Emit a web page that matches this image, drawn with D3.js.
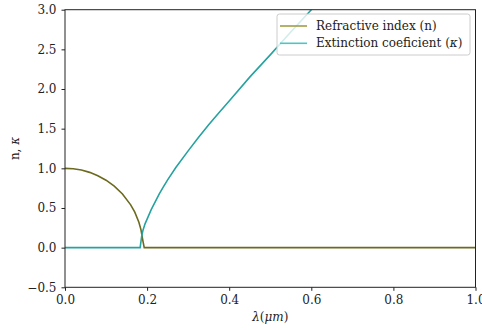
<!DOCTYPE html>
<meta charset="utf-8">
<style>
body { margin: 0; background: #fff; }
.axis path, .axis line { stroke: #222; }
</style>
<svg width="482" height="330"></svg>
<script src="https://cdn.jsdelivr.net/npm/d3@7"></script>
<script>

// values
var lambdaN = [0, 0.02, 0.04, 0.06, 0.08, 0.10, 0.12, 0.14, 0.16, 0.17, 0.18, 0.185, 0.19, 0.193, 1.0];
var nValues = [1.0, 0.994, 0.978, 0.949, 0.907, 0.850, 0.775, 0.676, 0.539, 0.447, 0.320, 0.228, 0.08, 0, 0];

var lambdaK = [0, 0.183, 0.187, 0.19, 0.195, 0.20, 0.21, 0.22, 0.23, 0.24, 0.25, 0.27, 0.30, 0.325, 0.35, 0.375, 0.40, 0.45, 0.50, 0.55, 0.60, 0.65];
var kValues = [0, 0, 0.15, 0.22, 0.30, 0.36, 0.48, 0.58, 0.68, 0.77, 0.855, 1.01, 1.22, 1.39, 1.55, 1.70, 1.85, 2.15, 2.43, 2.72, 3.0, 3.27];

var xTicks = [0, 0.2, 0.4, 0.6, 0.8, 1.0];
var yTicks = [-0.5, 0, 0.5, 1.0, 1.5, 2.0, 2.5, 3.0];
var seriesNames = ["Refractive index (n)", "Extinction coeficient ("];

var FONT = "'DejaVu Serif'";

var svg = d3.select("svg"),
    mLeft = 65, mRight = 475.5, mTop = 9.7, mBottom = 287.3;

var x = d3.scaleLinear().domain([0, 1]).range([mLeft, mRight]);
var y = d3.scaleLinear().domain([-0.5, 3]).range([mBottom, mTop]);

svg.append("defs").append("clipPath").attr("id", "clip")
  .append("rect").attr("x", mLeft).attr("y", mTop).attr("width", mRight - mLeft).attr("height", mBottom - mTop);

var line = d3.line().x(function(d) { return x(d[0]); }).y(function(d) { return y(d[1]); });

var plot = svg.append("g").attr("clip-path", "url(#clip)");

plot.append("path")
    .datum(d3.zip(lambdaN, nValues))
    .attr("d", line)
    .attr("fill", "none")
    .attr("stroke", "#6b6a1f")
    .attr("stroke-width", 1.6);

plot.append("path")
    .datum(d3.zip(lambdaK, kValues))
    .attr("d", line)
    .attr("fill", "none")
    .attr("stroke", "#26a3a0")
    .attr("stroke-width", 1.6);

// axes
var fmt = function(d) { return d3.format(".1f")(d).replace("-", "\u2212"); };

svg.append("g").attr("class", "axis")
    .attr("transform", "translate(0," + mBottom + ")")
    .call(d3.axisBottom(x).tickValues(xTicks).tickFormat(fmt).tickSizeOuter(0).tickSize(3.5).tickPadding(4.5));
svg.append("g").attr("class", "axis")
    .attr("transform", "translate(" + mLeft + ",0)")
    .call(d3.axisLeft(y).tickValues(yTicks).tickFormat(fmt).tickSizeOuter(0).tickSize(3.5).tickPadding(5));
svg.selectAll(".axis .domain").remove();

svg.append("rect")
    .attr("x", mLeft).attr("y", mTop)
    .attr("width", mRight - mLeft).attr("height", mBottom - mTop)
    .attr("fill", "none").attr("stroke", "#222").attr("stroke-width", 1);

// axis labels
svg.append("text")
    .attr("x", (mLeft + mRight) / 2)
    .attr("y", 320.5)
    .attr("text-anchor", "middle")
    .html('<tspan font-style="italic">\u03bb</tspan>(<tspan font-style="italic">\u03bcm</tspan>)');

svg.append("text")
    .attr("transform", "translate(19," + ((mTop + mBottom) / 2) + ") rotate(-90)")
    .attr("text-anchor", "middle")
    .html('n, <tspan font-style="italic">\u03ba</tspan>');

// legend
var legend = svg.append("g");
legend.append("rect")
    .attr("x", 277).attr("y", 14).attr("width", 193).attr("height", 41)
    .attr("rx", 2.5)
    .attr("fill", "#fff").attr("fill-opacity", 0.8)
    .attr("stroke", "#ccc").attr("stroke-width", 1);

var legendColors = ["#a09d45", "#4cc6c4"];
seriesNames.forEach(function(name, i) {
  var yy = 26 + i * 17.3;
  legend.append("line")
      .attr("x1", 280).attr("x2", 307).attr("y1", yy).attr("y2", yy)
      .attr("stroke", legendColors[i]).attr("stroke-width", 1.6);
  var t = legend.append("text")
      .attr("x", 316).attr("y", yy + 4)
      .text(name);
  if (i === 1) {
    t.append("tspan").attr("font-style", "italic").text("\u03ba");
    t.append("tspan").text(")");
  }
});

svg.selectAll("text")
    .style("font-family", FONT)
    .style("font-size", "12px")
    .attr("fill", "#222");

</script>
